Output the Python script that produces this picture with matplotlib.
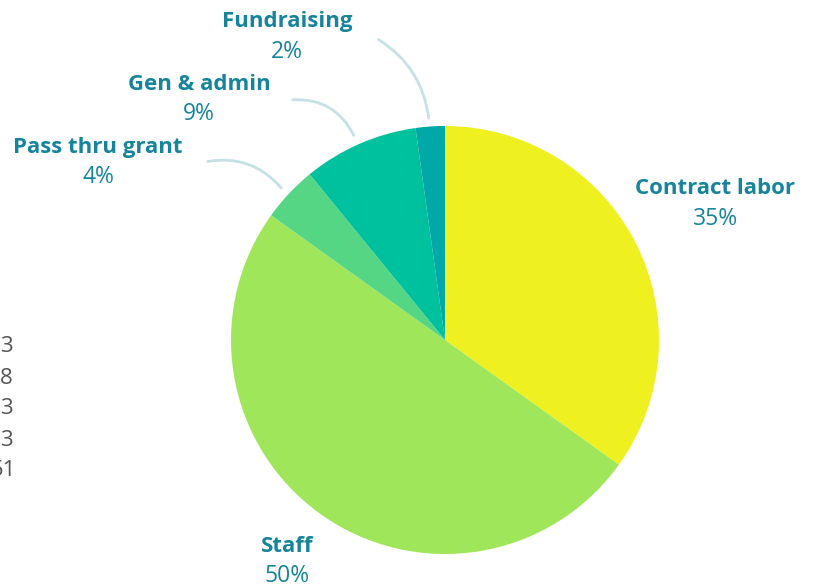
import numpy as np
import matplotlib.pyplot as plt

# data to plot
categories = ['Contract labor', 'Staff', 'Pass thru grant', 'Gen & admin', 'Fundraising']
shares = [34.9, 50.0, 4.2, 8.7, 2.2]
colors = ['#EEF020', '#A0E65A', '#55D685', '#00C19E', '#00A8A8']
side_values = ['3', '8', '3', '3', '51']

W, H = 813, 584
fig = plt.figure(figsize=(W / 100, H / 100), dpi=100)
ax = fig.add_axes([0, 0, 1, 1])

cx, cy, r = 445, H - 340, 214
wedges, _ = ax.pie(shares, colors=colors, startangle=90, counterclock=False,
                   center=(cx, cy), radius=r, frame=True)
ax.set_xlim(0, W)
ax.set_ylim(0, H)
ax.set_aspect('equal')
ax.axis('off')

teal = '#16849A'
fam = ['Open Sans', 'DejaVu Sans']

# label positions in pixel coords (x, y of name line)
label_pos = {
    'Contract labor': (715, 189),
    'Staff': (287, 546),
    'Pass thru grant': (98, 147),
    'Gen & admin': (199, 84),
    'Fundraising': (287, 22),
}
for name, val in zip(categories, shares):
    x, y = label_pos[name]
    ax.text(x, H - y, name, ha='center', va='center', fontsize=16,
            fontweight='bold', color=teal, family=fam)
    ax.text(x, H - y - 30, f'{round(val):.0f}%', ha='center', va='center',
            fontsize=16.5, color=teal, family=fam)

# leader lines
line_col = '#C5E1E6'
leaders = [((376, 38), (429, 121), -0.25),
           ((290, 100), (355, 138), -0.35),
           ((205, 162), (283, 190), -0.3)]
for (x0, y0), (x1, y1), rad in leaders:
    ax.annotate('', xy=(x1, H - y1), xytext=(x0, H - y0),
                arrowprops=dict(arrowstyle='-', color=line_col, lw=2,
                                connectionstyle=f'arc3,rad={rad}'))

# cut-off values at the left edge
for i, v in enumerate(side_values):
    xr = 16 if len(v) > 1 else 13
    ax.text(xr, H - (347 + 31 * i), v, ha='right', va='center', fontsize=16,
            color='#555555', family=fam)

plt.savefig('out.png', dpi=100)
